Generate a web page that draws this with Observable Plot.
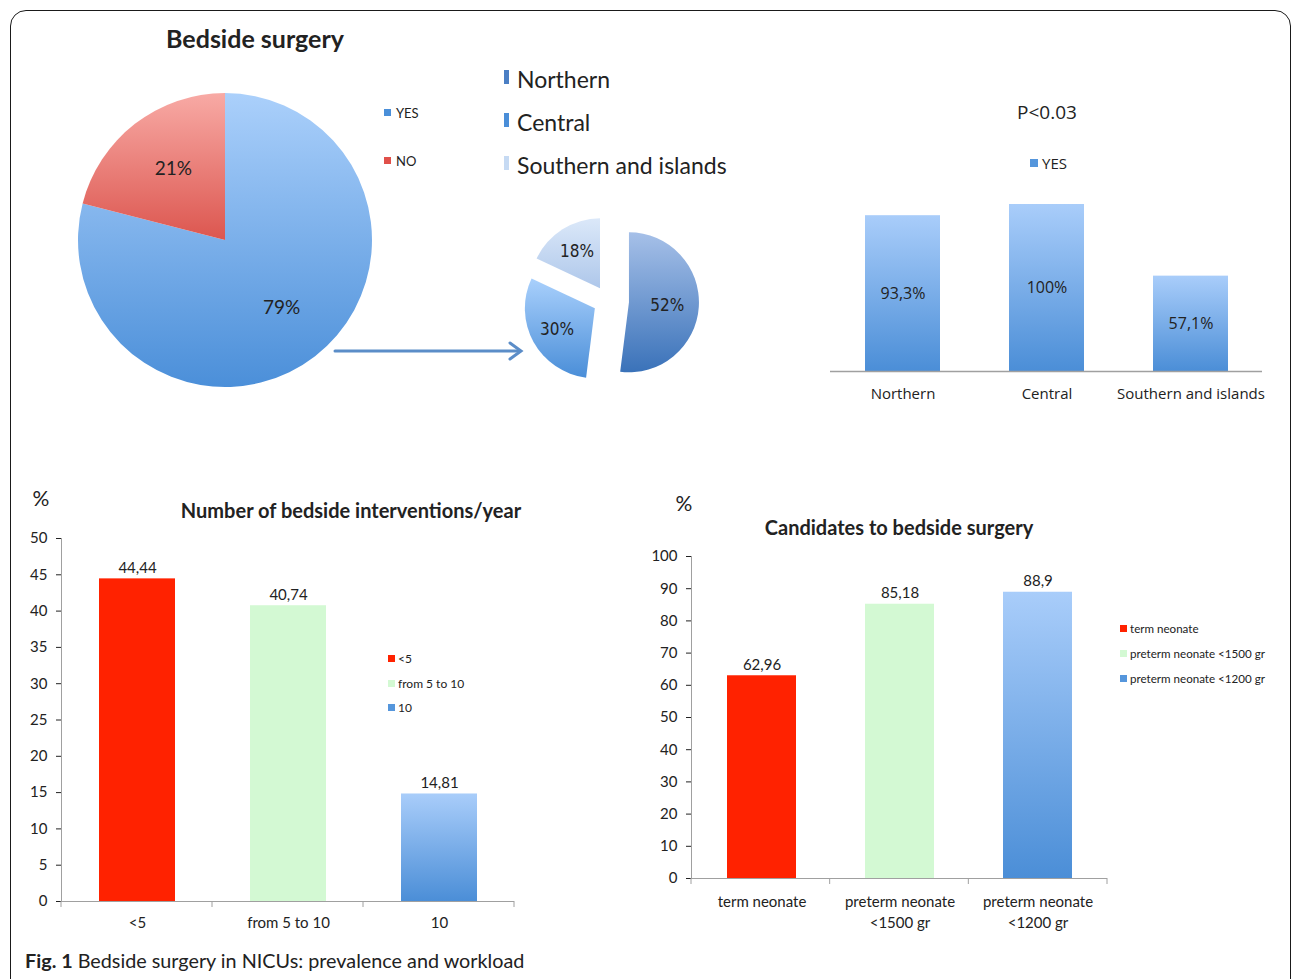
<!DOCTYPE html>
<html><head><meta charset="utf-8">
<script src="https://cdn.jsdelivr.net/npm/d3@7"></script>
<script src="https://cdn.jsdelivr.net/npm/@observablehq/plot@0.6"></script>
<style>
body{margin:0;background:#fff;}
#root{position:relative;width:1292px;height:979px;overflow:hidden;background:#fff;font-family:Lato,"DejaVu Sans",sans-serif;color:#222;}
.frame{position:absolute;left:10px;top:10px;width:1281px;height:1010px;border:1.5px solid #1a1a1a;border-radius:16px;box-sizing:border-box;}
.lbl{position:absolute;white-space:nowrap;line-height:1;}
.chart{position:absolute;}
.chart svg{overflow:visible;}
.chart line, .chart path.domain{stroke:#a0a0a0;}
.sw{position:absolute;}
</style></head>
<body>
<svg width="0" height="0" style="position:absolute">
  <defs>
    <linearGradient id="gYes" x1="0" y1="0" x2="0" y2="1"><stop offset="0" stop-color="#abd0fb"/><stop offset="1" stop-color="#4b8fd9"/></linearGradient>
    <linearGradient id="gNo" x1="0" y1="0" x2="0" y2="1"><stop offset="0" stop-color="#f8aaa5"/><stop offset="1" stop-color="#dc564f"/></linearGradient>
    <linearGradient id="gNorth" x1="0" y1="0" x2="0" y2="1"><stop offset="0" stop-color="#a6c0e8"/><stop offset="1" stop-color="#3a72b9"/></linearGradient>
    <linearGradient id="gCentral" x1="0" y1="0" x2="0" y2="1"><stop offset="0" stop-color="#a9d0fc"/><stop offset="1" stop-color="#4a8ed8"/></linearGradient>
    <linearGradient id="gSouth" x1="0" y1="0" x2="0" y2="1"><stop offset="0" stop-color="#dbe8f9"/><stop offset="1" stop-color="#aec7ea"/></linearGradient>
    <linearGradient id="gBar" x1="0" y1="0" x2="0" y2="1"><stop offset="0" stop-color="#a9cdfa"/><stop offset="1" stop-color="#4b8ed7"/></linearGradient>
  </defs>
</svg>
<div id="root"><div class="frame"></div></div>
<script>
// ---------------- DATA ----------------
const bedsideLabels = ["YES", "NO"];
const bedsideValues = [79, 21];

const regionLabels = ["Northern", "Central", "Southern and islands"];
const regionShare = [52, 30, 18];

const regionYesValues = [93.3, 100, 57.1];

const interventionCats = ["<5", "from 5 to 10", "10"];
const interventionValues = [44.44, 40.74, 14.81];
const interventionTicks = [0, 5, 10, 15, 20, 25, 30, 35, 40, 45, 50];

const candidateCats = ["term neonate", "preterm neonate <1500 gr", "preterm neonate <1200 gr"];
const candidateAxisLabels = ["term neonate", "preterm neonate\n<1500 gr", "preterm neonate\n<1200 gr"];
const candidateValues = [62.96, 85.18, 88.9];
const candidateTicks = [0, 10, 20, 30, 40, 50, 60, 70, 80, 90, 100];

// ---------------- STYLE ----------------
const bedsideFills = ["url(#gYes)", "url(#gNo)"];
const bedsideSwatch = ["#4a8fd9", "#e0504a"];
const regionFills = ["url(#gNorth)", "url(#gCentral)", "url(#gSouth)"];
const regionExplode = [0.3, 0.214, 0.214];
const regionSwatch = ["#4b7fc4", "#4a8ed8", "#c6daf3"];
const barFills = ["#ff2200", "#d3f9d3", "url(#gBar)"];
const barSwatch = ["#ff2200", "#d3f9d3", "#5596dc"];

const root = document.getElementById("root");
const comma = v => String(v).replace(".", ",");

function label(text, x, y, o = {}) {
  const d = document.createElement("div");
  d.className = "lbl";
  d.textContent = text;
  d.style.left = x + "px";
  d.style.top = y + "px";
  d.style.fontSize = (o.size || 15) + "px";
  d.style.fontWeight = o.weight || 400;
  d.style.fontFamily = o.family || "Lato, sans-serif";
  d.style.color = o.color || "#222";
  d.style.transform = o.anchor === "middle" ? "translate(-50%,-50%)" : "translate(0,-50%)";
  root.appendChild(d);
  return d;
}
function swatch(x, y, w, h, color) {
  const d = document.createElement("div");
  d.className = "sw";
  Object.assign(d.style, {left: x + "px", top: y + "px", width: w + "px", height: h + "px", background: color});
  root.appendChild(d);
}
function place(node, left, top) {
  const wrap = document.createElement("div");
  wrap.className = "chart";
  wrap.style.left = left + "px";
  wrap.style.top = top + "px";
  wrap.appendChild(node);
  root.appendChild(wrap);
}

// pie render mark using Plot's x/y scales (unit domain)
function pieMark(data, fills, explode) {
  return (index, scales, values, dims) => {
    const x = scales.x, y = scales.y;
    const cx = x(0), cy = y(0), r = Math.abs(x(1) - x(0));
    const arcs = d3.pie().sort(null).value(d => d.value)(data);
    const gen = d3.arc().innerRadius(0).outerRadius(r);
    const g = d3.create("svg:g");
    arcs.forEach((a, i) => {
      const m = (a.startAngle + a.endAngle) / 2;
      const e = explode[i];
      const ox = Math.sin(m) * e * r, oy = -Math.cos(m) * e * r;
      g.append("path")
        .attr("transform", `translate(${cx + ox},${cy + oy})`)
        .attr("d", gen(a))
        .attr("fill", fills[i]);
    });
    return g.node();
  };
}
function pieLabels(data, k) {
  const arcs = d3.pie().sort(null).value(d => d.value)(data);
  return arcs.map(a => {
    const m = (a.startAngle + a.endAngle) / 2;
    return {x: Math.sin(m) * k, y: Math.cos(m) * k, text: a.data.value + "%"};
  });
}
// boundary ticks for band x axis
function boundaryTicks(len) {
  return (index, scales, values, dims) => {
    const x = scales.x, y = scales.y;
    const n = x.domain().length;
    const left = dims.marginLeft, right = dims.width - dims.marginRight;
    const step = (right - left) / n;
    const y0 = y(0);
    const g = d3.create("svg:g");
    for (let i = 0; i <= n; i++) {
      const v = left + i * step;
      g.append("line").attr("x1", v).attr("x2", v).attr("y1", y0).attr("y2", y0 + len).attr("stroke", "#a0a0a0");
    }
    return g.node();
  };
}

// ---------------- TOP-LEFT: big pie ----------------
const bedsideData = bedsideLabels.map((k, i) => ({key: k, value: bedsideValues[i]}));
place(Plot.plot({
  width: 300, height: 300, margin: 3,
  x: {domain: [-1, 1], axis: null},
  y: {domain: [-1, 1], axis: null},
  style: {background: "transparent", overflow: "visible"},
  marks: [
    pieMark(bedsideData, bedsideFills, [0, 0]),
    Plot.text(pieLabels(bedsideData, 0.6), {x: "x", y: "y", text: "text", fontSize: 19, fontFamily: "Lato, sans-serif", fill: "#222", dx: 2, dy: -2})
  ]
}), 75, 90);

// small exploded pie of YES by region
const regionData = regionLabels.map((k, i) => ({key: k, value: regionShare[i]}));
place(Plot.plot({
  width: 180, height: 180, margin: 20,
  x: {domain: [-1, 1], axis: null},
  y: {domain: [-1, 1], axis: null},
  style: {background: "transparent", overflow: "visible"},
  marks: [
    pieMark(regionData, regionFills, regionExplode),
    Plot.text(pieLabels(regionData, 0.84), {x: "x", y: "y", text: "text", fontSize: 17, fontFamily: "'Liberation Sans Narrow', 'DejaVu Sans Condensed', sans-serif", fontStretch: "condensed", fill: "#222"})
  ]
}), 518, 211);

// arrow (decoration)
const arrow = document.createElementNS("http://www.w3.org/2000/svg", "svg");
arrow.setAttribute("width", 1292); arrow.setAttribute("height", 979);
arrow.style.position = "absolute"; arrow.style.left = "0"; arrow.style.top = "0";
arrow.innerHTML = `<g stroke="#5b8dc8" stroke-width="3" fill="none" stroke-linecap="round"><line x1="335" y1="351" x2="520" y2="351"/><polyline points="510,343 521,351 510,359"/></g>`;
root.appendChild(arrow);

label("Bedside surgery", 255, 38, {size: 25, weight: 700, anchor: "middle"});
bedsideLabels.forEach((k, i) => {
  swatch(384, [109, 157][i], 7, 7, bedsideSwatch[i]);
  label(k, 396, [113, 161][i], {size: 13});
});
regionLabels.forEach((k, i) => {
  swatch(504, [70, 113, 156][i], 5, 14, regionSwatch[i]);
  label(k, 517, [79, 122, 165][i], {size: 23});
});

// ---------------- TOP-RIGHT: YES by region ----------------
const regionYesData = regionLabels.map((k, i) => ({cat: k, value: regionYesValues[i]}));
place(Plot.plot({
  width: 492, height: 240, marginLeft: 30, marginRight: 30, marginTop: 24, marginBottom: 49,
  style: {background: "transparent", fontFamily: "'Open Sans', sans-serif", fontSize: "15px", color: "#222", overflow: "visible"},
  x: {domain: regionLabels, paddingInner: 0.48, paddingOuter: 0.24, tickSize: 0, tickPadding: 17, label: null},
  y: {domain: [0, 100], axis: null},
  marks: [
    Plot.barY(regionYesData, {x: "cat", y: "value", fill: "url(#gBar)"}),
    Plot.ruleY([0], {stroke: "#a8a8a8", strokeWidth: 1.5}),
    Plot.text(regionYesData, {x: "cat", y: d => d.value / 2, text: d => comma(d.value) + "%", fontSize: 16, fill: "#222"})
  ]
}), 800, 180);
label("P<0.03", 1047, 112, {size: 19, family: "'Open Sans', sans-serif", anchor: "middle"});
swatch(1030, 159, 8, 8, "#5596dc");
label("YES", 1042, 163, {size: 15, family: "'Open Sans', sans-serif"});

// ---------------- BOTTOM-LEFT: interventions ----------------
const intData = interventionCats.map((k, i) => ({cat: k, value: interventionValues[i]}));
place(Plot.plot({
  width: 560, height: 470, marginLeft: 61, marginRight: 46, marginTop: 58, marginBottom: 49,
  style: {background: "transparent", fontFamily: "Lato, sans-serif", fontSize: "15px", color: "#222", overflow: "visible"},
  x: {domain: interventionCats, paddingInner: 0.5, paddingOuter: 0.25, tickSize: 0, tickPadding: 16, label: null},
  y: {domain: [0, 50], ticks: interventionTicks, tickSize: 5, tickPadding: 9, label: null, line: true},
  marks: [
    ...intData.map((d, i) => Plot.barY([d], {x: "cat", y: "value", fill: barFills[i]})),
    Plot.ruleY([0], {stroke: "#a0a0a0", strokeWidth: 1.2}),
    boundaryTicks(6),
    Plot.text(intData, {x: "cat", y: "value", text: d => comma(d.value), dy: -6, lineAnchor: "bottom", fontSize: 15, fill: "#222"})
  ]
}), 0, 480);
label("%", 41, 497, {size: 21, anchor: "middle"});
label("Number of bedside interventions/year", 351, 510, {size: 20, weight: 700, anchor: "middle"});
["<5", "from 5 to 10", "10"].forEach((k, i) => {
  swatch(388, [655, 680, 704][i], 7, 7, barSwatch[i]);
  label(k, 398, [659, 684, 708][i], {size: 12});
});

// ---------------- BOTTOM-RIGHT: candidates ----------------
const candData = candidateCats.map((k, i) => ({cat: k, value: candidateValues[i], axis: candidateAxisLabels[i]}));
place(Plot.plot({
  width: 520, height: 470, marginLeft: 71, marginRight: 33, marginTop: 76, marginBottom: 72,
  style: {background: "transparent", fontFamily: "Lato, sans-serif", fontSize: "15px", color: "#222", overflow: "visible"},
  x: {domain: candidateCats, paddingInner: 0.5, paddingOuter: 0.25, axis: null},
  y: {domain: [0, 100], ticks: candidateTicks, tickSize: 5, tickPadding: 9, label: null, line: true},
  marks: [
    ...candData.map((d, i) => Plot.barY([d], {x: "cat", y: "value", fill: barFills[i]})),
    Plot.ruleY([0], {stroke: "#a0a0a0", strokeWidth: 1.2}),
    boundaryTicks(6),
    Plot.text(candData, {x: "cat", y: "value", text: d => comma(d.value), dy: -6, lineAnchor: "bottom", fontSize: 15, fill: "#222"}),
    Plot.text(candData, {x: "cat", frameAnchor: "bottom", text: "axis", dy: 14, lineAnchor: "top", lineHeight: 1.4, fontSize: 15, fill: "#222"})
  ]
}), 620, 480);
label("%", 684, 502, {size: 21, anchor: "middle"});
label("Candidates to bedside surgery", 899, 527, {size: 20, weight: 700, anchor: "middle"});
candidateCats.forEach((k, i) => {
  swatch(1120, [625, 650, 675][i], 7, 7, barSwatch[i]);
  label(k, 1130, [629, 654, 679][i], {size: 11.6});
});

// ---------------- CAPTION ----------------
const cap = label("", 25, 961, {size: 19.8});
cap.innerHTML = '<b>Fig. 1</b> Bedside surgery in NICUs: prevalence and workload';
</script>
</body></html>
